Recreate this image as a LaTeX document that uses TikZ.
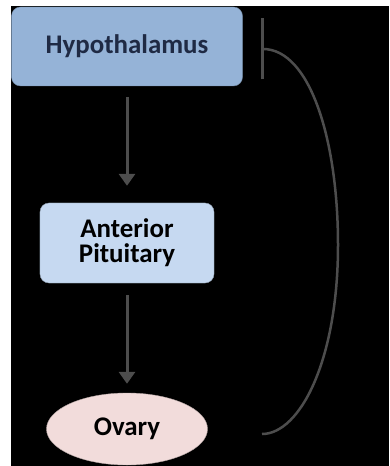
\documentclass[tikz,border=0pt]{standalone}
\usepackage{fontspec}
\setmainfont{Carlito}
\usetikzlibrary{arrows.meta,shapes.geometric,positioning}

\definecolor{hypoblue}{HTML}{95B3D7}
\definecolor{pitblue}{HTML}{C6D9F1}
\definecolor{ovpink}{HTML}{F2DCDB}
\definecolor{linegray}{HTML}{4D4D4D}
\definecolor{navytext}{HTML}{1F2A44}

\tikzset{
  organ/.style={rounded corners=9bp, align=center, inner sep=0pt,
    font=\fontsize{27}{25}\selectfont\bfseries},
  flow/.style={draw=linegray, line width=3bp, -{Triangle[width=16bp,length=12bp]}},
  inhib/.style={draw=linegray, line width=2.5bp, -{Bar[width=61bp]}},
}

\begin{document}
\begin{tikzpicture}[x=1bp,y=-1bp]
    \useasboundingbox (0,0) rectangle (389,466);
    \fill[white] (0,0) rectangle (389,466);
    \fill[black] (10.5,6) rectangle (389,466);

    % Glands
    \node[organ, fill=hypoblue, draw=hypoblue!75!black, text=navytext,
      minimum width=231bp, minimum height=79bp] (hypo) at (127,46.5) {Hypothalamus};
    \node[organ, fill=pitblue, draw=pitblue!75!black,
      minimum width=174bp, minimum height=80bp] (pit) at (127,243) {Anterior\\Pituitary};
    \node[ellipse, inner sep=0pt, fill=ovpink, draw=ovpink!75!black,
      font=\fontsize{27}{25}\selectfont\bfseries,
      minimum width=161bp, minimum height=72bp] (ovary) at (127,429) {Ovary};

    % Stimulation
    \draw[flow, shorten <=11bp, shorten >=17bp] (hypo.south) -- (pit.north);
    \draw[flow, shorten <=12bp, shorten >=9bp] (pit.south) -- (ovary.north);

    % Negative feedback
    \coordinate (ovtail) at (262,434);
    \coordinate (hypobar) at (261,49);
    \draw[inhib] (ovtail) .. controls (300,434) and (338,360) .. (338,245)
      .. controls (338,140) and (310,49) .. (hypobar);
\end{tikzpicture}
\end{document}
